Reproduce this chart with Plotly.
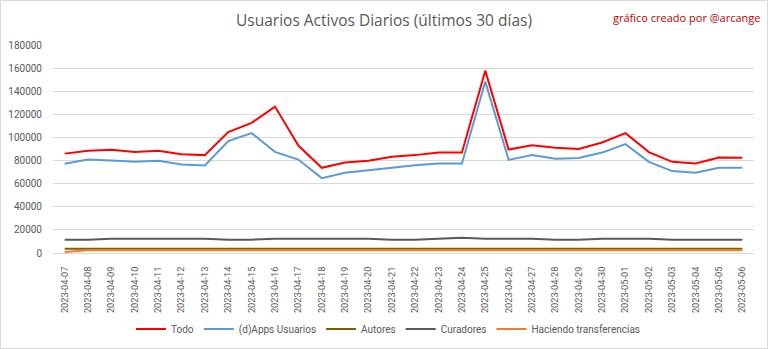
import plotly.graph_objects as go

dates = [
    "2023-04-07", "2023-04-08", "2023-04-09", "2023-04-10", "2023-04-11",
    "2023-04-12", "2023-04-13", "2023-04-14", "2023-04-15", "2023-04-16",
    "2023-04-17", "2023-04-18", "2023-04-19", "2023-04-20", "2023-04-21",
    "2023-04-22", "2023-04-23", "2023-04-24", "2023-04-25", "2023-04-26",
    "2023-04-27", "2023-04-28", "2023-04-29", "2023-04-30", "2023-05-01",
    "2023-05-02", "2023-05-03", "2023-05-04", "2023-05-05", "2023-05-06",
]

todo = [86000, 88400, 89300, 87500, 88400, 85500, 84700, 104600, 112600, 126700,
        93000, 73700, 78300, 79800, 83200, 84700, 86900, 86900, 157800, 89500,
        93300, 91000, 90100, 95600, 103700, 87300, 78900, 77400, 82600, 82400]

apps = [77200, 80900, 80000, 78900, 79800, 76600, 75700, 96800, 103700, 87500,
        80900, 64800, 69400, 71700, 74300, 76000, 77400, 77400, 148300, 80600,
        84700, 81500, 82300, 86900, 94200, 78900, 70900, 69400, 73700, 73700]

autores = [3700, 3700, 3700, 3700, 3700, 3700, 3700, 3600, 3600, 3700,
           3700, 3600, 3600, 3600, 3600, 3600, 3600, 3700, 3700, 3700,
           3700, 3600, 3600, 3600, 3700, 3700, 3600, 3600, 3600, 3600]

curadores = [11500, 11500, 12300, 12300, 12300, 12300, 12300, 11500, 11500, 12300,
             12300, 12300, 12300, 12300, 11500, 11500, 12300, 13200, 12300, 12300,
             12300, 11500, 11500, 12300, 12300, 12300, 11500, 11500, 11500, 11500]

transferencias = [900, 2300, 2300, 2300, 2300, 2300, 2300, 2300, 2300, 2200,
                  1800, 2200, 2300, 2300, 2300, 2300, 2300, 2300, 2300, 2300,
                  2200, 1800, 2200, 2300, 2000, 2300, 2300, 2300, 2300, 2300]

y_ticks = list(range(0, 180001, 20000))

series = [
    ("Todo", todo, "#FF0000"),
    ("(d)Apps Usuarios", apps, "#5B9BD5"),
    ("Autores", autores, "#7F6000"),
    ("Curadores", curadores, "#595959"),
    ("Haciendo transferencias", transferencias, "#ED7D31"),
]

fig = go.Figure()
for name, vals, color in series:
    fig.add_trace(go.Scatter(
        x=dates, y=vals, name=name, mode="lines",
        line=dict(color=color, width=2),
    ))

W, H = 768, 349
ML, MR, MT, MB = 53, 14, 45, 96
pw, ph = W - ML - MR, H - MT - MB

font_family = "Roboto, 'Open Sans', sans-serif"
grey = "#595959"
clear = "rgba(0,0,0,0)"

fig.update_layout(
    width=W, height=H,
    margin=dict(l=ML, r=MR, t=MT, b=MB, autoexpand=False),
    paper_bgcolor="white", plot_bgcolor="white",
    font=dict(family=font_family, size=10, color=grey),
    title=dict(
        text="Usuarios Activos Diarios (últimos 30 días)",
        x=384 / W, xanchor="center", xref="container",
        y=1 - 21 / H, yanchor="middle",
        font=dict(family="'Open Sans', sans-serif", size=15.5, color=grey),
    ),
    showlegend=True,
    legend=dict(
        orientation="h", x=(388 - ML) / pw, xanchor="center",
        yref="container", y=1 - 329 / H, yanchor="middle",
        font=dict(size=10, color=grey),
        itemwidth=30, tracegroupgap=0,
    ),
    xaxis=dict(
        type="category", range=[-0.5, len(dates) - 0.5],
        tickangle=-90, tickfont=dict(size=9.2, color=grey),
        showgrid=False, showline=True, linecolor="#D9D9D9", linewidth=1,
        ticks="outside", ticklen=9, tickcolor=clear, automargin=False,
    ),
    yaxis=dict(
        range=[0, 180000], tickvals=y_ticks,
        ticktext=[str(v) for v in y_ticks],
        tickfont=dict(size=10, color=grey),
        showgrid=True, gridcolor="#D9D9D9", gridwidth=1,
        zeroline=False, showline=False,
        ticks="outside", ticklen=8, tickcolor=clear, automargin=False,
    ),
    annotations=[dict(
        text="gráfico creado por @arcange",
        xref="paper", yref="paper",
        x=(763 - ML) / pw, y=(MT + ph - 17) / ph,
        xanchor="right", yanchor="middle", showarrow=False,
        font=dict(family="'Open Sans', sans-serif", size=11, color="#C00000"),
    )],
    shapes=[dict(
        type="rect", xref="paper", yref="paper",
        x0=(0.5 - ML) / pw, x1=(W - 0.5 - ML) / pw,
        y0=(MT + ph - (H - 0.5)) / ph, y1=(MT + ph - 0.5) / ph,
        line=dict(color="#D9D9D9", width=1), fillcolor=clear,
        layer="below",
    )],
)

fig.write_html("out.html")
